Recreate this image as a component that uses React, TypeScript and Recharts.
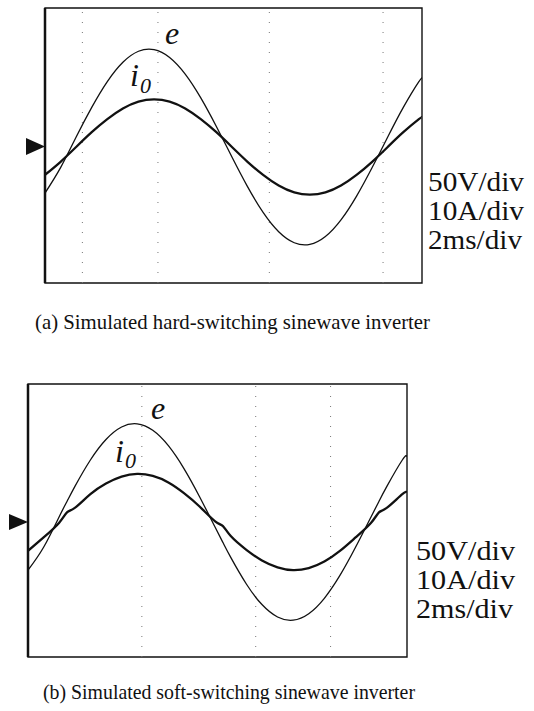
import React from "react";
import { LineChart, Line, XAxis, YAxis, ReferenceArea, ReferenceLine } from "recharts";

// time axis in ms (2 ms/div)
const timeHard = [0, 1, 2, 3, 4, 5, 6, 7, 8, 9, 10, 11, 12, 13, 14, 15, 16, 17, 18, 19, 20, 21, 22, 23, 24, 24.2];
const eHard = [-67, -30, 14.6, 57.7, 95.2, 123.3, 139.3, 141.7, 130.3, 106.1, 71.5, 29.9, -14.6, -57.7, -95.2, -123.3, -139.3, -141.7, -130.3, -106.1, -71.5, -29.9, 14.6, 57.7, 95.2, 99];
const iHard = [-8.1, -4.3, 0, 4.3, 8.1, 11.2, 13.2, 13.85, 13.2, 11.2, 8.1, 4.3, 0, -4.3, -8.1, -11.2, -13.2, -13.85, -13.2, -11.2, -8.1, -4.3, 0, 4.3, 8.1, 8.6];

// soft-switching current has small ripples near the zero crossings
const timeSoft = [0, 1, 2, 2.5, 3, 4, 5, 6, 7, 8, 9, 10, 11, 12, 12.5, 13, 14, 15, 16, 17, 18, 19, 20, 21, 22, 22.5, 23, 24, 24.3];
const eSoft = [-70, -36.8, 7.7, 29.9, 51.5, 90.2, 120.1, 138.2, 142.8, 133.4, 111, 77.7, 36.8, -7.7, -29.9, -51.5, -90.2, -120.1, -138.2, -142.8, -133.4, -111, -77.7, -36.8, 7.7, 29.9, 51.5, 90.2, 95];
const iSoft = [-8.4, -4.5, -0.2, 2.8, 4.1, 8.1, 11.2, 13.2, 14, 13.4, 11.5, 8.4, 4.5, 0.2, -1.2, -4.1, -8.1, -11.2, -13.2, -14, -13.4, -11.5, -8.4, -4.5, -0.2, 2.8, 4.1, 8.1, 8.6];

// faint dotted graticule traces (ms)
const gridHard = [2.4, 7.25, 14.4, 21.7];
const gridSoft = [7.3, 14.6, 19.4];

const scaleLabels = ["50V/div", "10A/div", "2ms/div"];
const captionHard = "(a) Simulated hard-switching sinewave inverter";
const captionSoft = "(b) Simulated soft-switching sinewave inverter";

const SERIF = "'Liberation Serif', 'Times New Roman', serif";
const V_PER_PX = 50 / 34.375;

type PanelProps = {
  top: number;
  height: number;
  frame: { left: number; right: number; top: number; bottom: number };
  zeroY: number;
  time: number[];
  e: number[];
  i0: number[];
  grid: number[];
};

function ScopePanel({ top, height, frame, zeroY, time, e, i0, grid }: PanelProps) {
  const data = time.map((t, k) => ({ t, e: e[k], i0: i0[k] }));
  const tMax = time[time.length - 1];
  const vTop = (zeroY - frame.top) * V_PER_PX;
  const vBot = -(frame.bottom - zeroY) * V_PER_PX;
  return (
    <div style={{ position: "absolute", left: 0, top }}>
      <LineChart
        width={534}
        height={height}
        data={data}
        margin={{
          top: frame.top - top,
          left: frame.left,
          right: 534 - frame.right,
          bottom: top + height - frame.bottom,
        }}
      >
        <XAxis type="number" dataKey="t" domain={[0, tMax]} allowDataOverflow hide />
        <YAxis yAxisId="v" type="number" domain={[vBot, vTop]} allowDataOverflow hide />
        <YAxis yAxisId="a" type="number" domain={[vBot / 5, vTop / 5]} allowDataOverflow hide />
        {grid.map((g) => (
          <ReferenceLine
            key={g}
            x={g}
            yAxisId="v"
            stroke="#777"
            strokeWidth={1}
            strokeDasharray="1 9"
          />
        ))}
        <ReferenceArea
          yAxisId="v"
          x1={0}
          x2={tMax}
          y1={vBot}
          y2={vTop}
          fill="none"
          fillOpacity={0}
          stroke="#111"
          strokeWidth={1.4}
          ifOverflow="visible"
        />
        <ReferenceLine x={0} yAxisId="v" stroke="#111" strokeWidth={2.5} />
        <Line
          yAxisId="v"
          dataKey="e"
          type="natural"
          stroke="#111"
          strokeWidth={1.3}
          dot={false}
          isAnimationActive={false}
        />
        <Line
          yAxisId="a"
          dataKey="i0"
          type="natural"
          stroke="#111"
          strokeWidth={2.3}
          dot={false}
          isAnimationActive={false}
        />
      </LineChart>
    </div>
  );
}

export default function App() {
  return (
    <div style={{ position: "absolute", left: 0, top: 0, width: 534, height: 711, background: "#fff" }}>
      <ScopePanel
        top={0}
        height={300}
        frame={{ left: 45, right: 422, top: 8, bottom: 283 }}
        zeroY={147}
        time={timeHard}
        e={eHard}
        i0={iHard}
        grid={gridHard}
      />
      <ScopePanel
        top={370}
        height={300}
        frame={{ left: 28, right: 407, top: 384, bottom: 657 }}
        zeroY={522}
        time={timeSoft}
        e={eSoft}
        i0={iSoft}
        grid={gridSoft}
      />
      <svg
        width={534}
        height={711}
        style={{ position: "absolute", left: 0, top: 0, pointerEvents: "none" }}
        fontFamily={SERIF}
        fill="#111"
      >
        {/* trigger markers */}
        <polygon points="26,138 45,146.5 26,155" />
        <polygon points="9,514 28,522 9,530" />

        {/* trace names */}
        <text x={165} y={44} fontSize={32} fontStyle="italic">e</text>
        <text x={130} y={86} fontSize={32} fontStyle="italic">i</text>
        <text x={140} y={93} fontSize={22} fontStyle="italic">0</text>
        <text x={151} y={419} fontSize={32} fontStyle="italic">e</text>
        <text x={115} y={462} fontSize={32} fontStyle="italic">i</text>
        <text x={125} y={468} fontSize={22} fontStyle="italic">0</text>

        {/* scale settings */}
        {scaleLabels.map((s, k) => (
          <text key={"a" + s} x={428} y={191 + k * 29} fontSize={28} textLength={k === 2 ? 94 : 96} lengthAdjust="spacingAndGlyphs">
            {s}
          </text>
        ))}
        {scaleLabels.map((s, k) => (
          <text key={"b" + s} x={416} y={560 + k * 29} fontSize={28} textLength={k === 2 ? 97 : 99} lengthAdjust="spacingAndGlyphs">
            {s}
          </text>
        ))}

        <text x={35} y={329} fontSize={21} textLength={395} lengthAdjust="spacingAndGlyphs">{captionHard}</text>
        <text x={43} y={699} fontSize={21} textLength={372} lengthAdjust="spacingAndGlyphs">{captionSoft}</text>
      </svg>
    </div>
  );
}
